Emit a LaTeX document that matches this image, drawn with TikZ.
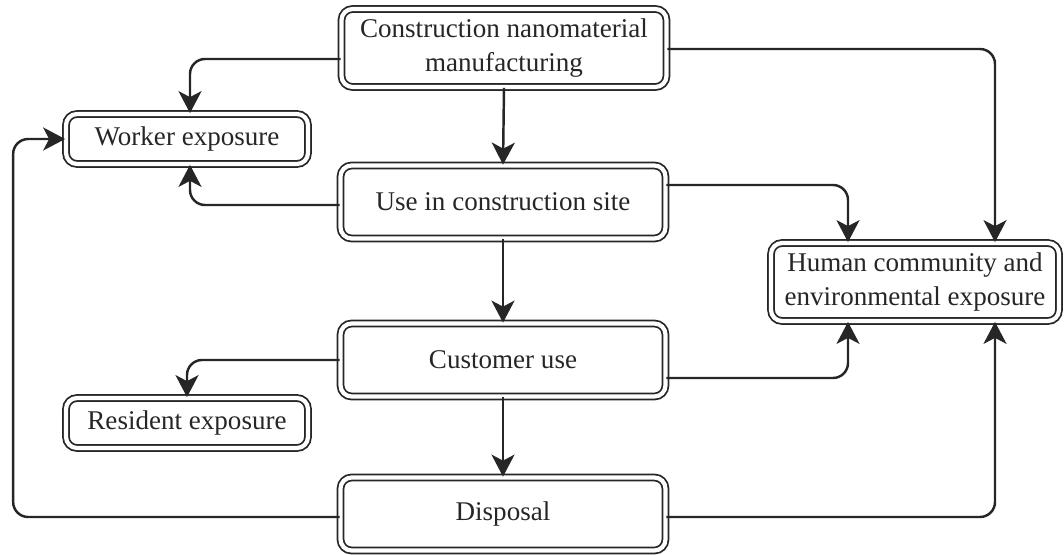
\documentclass[tikz,border=0pt]{standalone}
\usepackage{fontspec}
\setmainfont{Liberation Serif}
\usepackage{tikz}
\usetikzlibrary{arrows.meta,calc}
\tikzset{
  >={Stealth[length=4.4mm,width=4.6mm,inset=1.2mm]},
}
\tikzstyle{block}=[draw=black!85,line width=1pt,double,double distance=2.4pt,
  rounded corners=2.2mm,align=center,inner sep=0pt,
  font=\fontsize{15.4}{19.5}\selectfont,text=black!85]
\tikzstyle{link}=[line width=1.4pt,draw=black!85,->,rounded corners=3mm]
\tikzstyle{every node}=[font=\footnotesize]

\begin{document}
\begin{tikzpicture}[x=0.02cm,y=-0.02cm]
    \useasboundingbox (0,0) rectangle (1064,554);
    \node[block,minimum width=6.5cm,minimum height=1.56cm] (manuf) at (504,48)
      {Construction nanomaterial\\manufacturing};
    \node[block,minimum width=4.84cm,minimum height=1.0cm] (worker) at (187,139)
      {Worker exposure};
    \node[block,minimum width=6.5cm,minimum height=1.46cm] (site) at (503,202)
      {Use in construction site};
    \node[block,minimum width=5.76cm,minimum height=1.56cm] (human) at (915,282)
      {Human community and\\environmental exposure};
    \node[block,minimum width=6.5cm,minimum height=1.46cm] (customer) at (503,360)
      {Customer use};
    \node[block,minimum width=4.84cm,minimum height=1.0cm] (resident) at (187,423)
      {Resident exposure};
    \node[block,minimum width=6.5cm,minimum height=1.46cm] (disposal) at (503,514)
      {Disposal};
    % from manufacturing
    \draw[link] ($(manuf.west)+(0,11)$) -| ($(worker.north)+(3,0)$);
    \draw[link] (manuf.south) -- (site.north);
    \draw[link] ($(manuf.east)+(0,1)$) -| ($(human.north)+(80,0)$);
    % from the construction site
    \draw[link] ($(site.west)+(0,3)$) -| ($(worker.south)+(3,0)$);
    \draw[link] ($(site.east)+(0,-17)$) -| ($(human.north)+(-67,0)$);
    \draw[link] (site.south) -- (customer.north);
    % from customer use
    \draw[link] (customer.west) -| (resident.north);
    \draw[link] ($(customer.east)+(0,18)$) -| ($(human.south)+(-67,0)$);
    \draw[link] (customer.south) -- (disposal.north);
    % from disposal
    \draw[link] ($(disposal.west)+(0,3)$) -| ($(worker.west)+(-52,0)$) -- (worker.west);
    \draw[link] ($(disposal.east)+(0,3)$) -| ($(human.south)+(80,0)$);
  \end{tikzpicture}
\end{document}
